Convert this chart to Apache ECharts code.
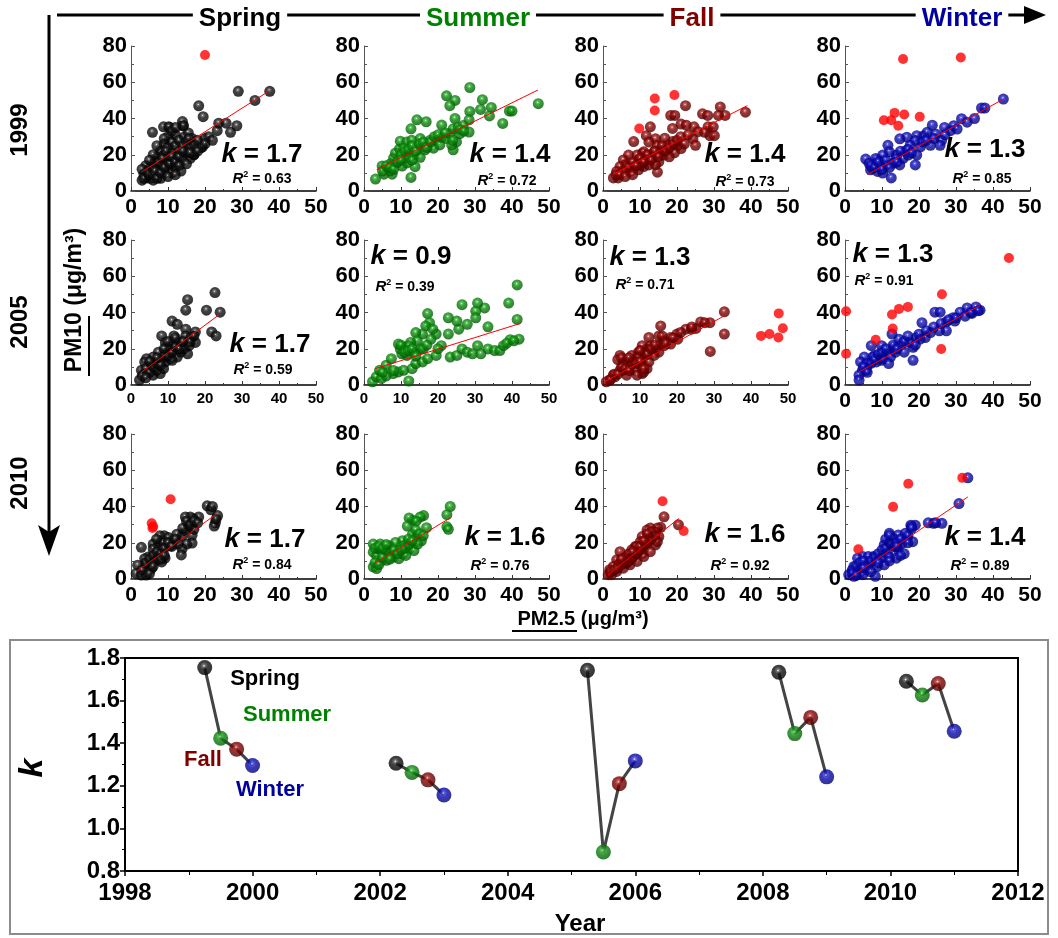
<!DOCTYPE html>
<html><head><meta charset="utf-8">
<script src="https://cdn.jsdelivr.net/npm/echarts@6/dist/echarts.min.js"></script>
<style>html,body{margin:0;padding:0;background:#fff}#c{width:1058px;height:938px}</style>
</head><body><div id="c"></div>
<script>
// ---------------- DATA ----------------
const seasons = ['Spring','Summer','Fall','Winter'];
const years = ['1999','2005','2010'];
const kLabels = [['1.7','1.4','1.4','1.3'],['1.7','0.9','1.3','1.3'],['1.7','1.6','1.6','1.4']];
const r2Labels = [['0.63','0.72','0.73','0.85'],['0.59','0.39','0.71','0.91'],['0.84','0.76','0.92','0.89']];
const xTicks = [0,10,20,30,40,50];
const yTicks = [0,20,40,60,80];

// 1999
const spring1999 = [[3,6],[3.5,9],[4,11],[4.5,8],[5,7],[5,13],[5.5,10],[6,6],[6,12],[6.5,16],[7,9],[7,14],[7,19],[7.5,11],[8,7],[8,17],[8,22],[8.5,13],[9,10],[9,20],[9,26],[9.5,15],[10,12],[10,18],[10,24],[10,30],[10.5,35],[11,10],[11,21],[11,27],[11.5,16],[12,13],[12,25],[12,31],[12.5,19],[13,22],[13,28],[13.5,11],[14,17],[14,25],[14,36],[14.5,30],[15,21],[15,27],[15.5,32],[16,18],[16,24],[16.5,29],[17,20],[17,26],[18,28],[18.3,47],[19.5,41],[19,24],[20,29],[21,30],[5.8,32.4],[8.8,35.4],[10.2,35.4],[13.9,38.3],[14.2,36],[23.3,33.3],[23.7,37.4],[25.7,37.4],[26.9,32.4],[28.6,36],[29,55],[33.5,50],[37.5,55],[4,14],[3,12],[15.6,28.8],[15.6,21.6],[11.4,16.2],[8,14.4],[17,20.1],[19.3,24.3],
  [3.5,7],[4.5,10],[5,9],[6,9],[6.5,11],[7,7],[7.5,16],[8,10],[8.5,18],[9,13],[9.5,22],[10,8],[10.5,15],[11,19],[12,9],[12,16],[13,14],[13,19],[14,22],[15,15],[16,21],[11,33],[12,35],[9,29],[7,25],[6,20],[5,17],[18,22],[20,26],[22,28]];
const spring1999Out = [[20,75]];
const spring1999Fit = [[2.8,10.4],[37.5,55.4]];

const summer1999 = [[47.1,48.2],[28.6,57.1],[22.3,52.5],[24.6,50],[23.2,47.1],[32,50.4],[34.4,46.1],[31.5,45],[33.9,41.4],[39.3,44.1],[40,44.1],[37.5,37.3],[28.6,43.9],[28.4,39.3],[28.4,32.5],[24.6,40],[21,36.4],[14.3,39.3],[16.8,38.2],[12.7,34.3],[12.7,7.5],[3.1,6.6],[5.4,9.3],[7.6,9.3],[4.9,13.8],[7.1,15],[8,18.2],[8.5,20.9],[9.6,23.2],[9.8,27.5],[11.6,27.1],[12.9,28],[10.7,23.6],[8.9,15.5],[10.3,13.8],[11.6,15.5],[12.5,19.1],[13.8,20],[15.2,18.6],[15.6,24.5],[15.2,28.9],[17,26],[18.8,23.6],[19.6,28],[20.5,25.4],[21,29.8],[22.3,28.9],[23.2,31.6],[24.1,34.3],[25.4,35.2],[25,27.1],[24.1,22.7],[23.7,25.4],[25.9,31.6],[26.8,36.1],[7.1,11.1],[6.3,12.9],[9.4,17.3],[11.2,18.2],[16.5,22.7],[17.9,28],[13.8,13.4],
  [5,11],[6,14],[7,13],[8,12],[9,16],[10,20],[11,22],[12,23],[13,25],[14,22],[15,26],[16,27],[17,24],[18,27],[19,30],[20,31],[22,32],[24,28],[26,34],[27,33],[10,17],[13,17]];
const summer1999Out = [];
const summer1999Fit = [[3.4,11.8],[47,55.7]];

const fall1999 = [[38.5,43.5],[31.7,46.4],[33,41.7],[31.2,41.7],[26.9,42.6],[28.3,41.7],[22.3,47.1],[18.3,41.7],[19.4,41.7],[21.1,36.9],[22.5,36.3],[18.8,34.5],[24.6,35.4],[25.7,32.7],[24.3,28.8],[28.4,35.4],[29.8,35.4],[28.9,30.5],[30.1,30.5],[27.5,32.4],[25,25.2],[21.1,23.4],[20.2,25.2],[18.8,27.3],[16.7,29.1],[14.2,28.8],[12.8,35.4],[11.7,30.5],[12.4,27],[8.3,27.3],[14.7,10.4],[14.7,25.2],[15.6,21.6],[16.5,19.8],[15.1,16.2],[12.8,18],[10.6,20.7],[9.6,17.1],[8.3,15.3],[6.9,19.8],[5.5,17.1],[6,14.4],[4.6,13.5],[3.7,10.8],[2.8,7.2],[4.1,7.2],[7.3,10.8],[9.6,11.7],[11,13.5],[12.4,14.4],[14.2,14.4],[16.5,22.5],[17.4,25.2],[11,21.6],[9.2,19.8],[19.3,21.1],[17.9,18.9],[6.4,13.5],[8.3,12.6],[10.1,14.4],[11.5,17.1],[13.8,21.6],[13.8,19.8],
  [5,10],[6,11],[7,13],[8,16],[9,14],[10,18],[11,16],[12,20],[13,17],[14,22],[15,19],[16,25],[17,22],[18,24],[19,26],[20,28],[21,30],[22,26],[23,31],[3.5,9],[4.5,9],[6,8],[8,9]];
const fall1999Out = [[14,51],[19.3,53],[14,44.4],[9.8,34.5]];
const fall1999Fit = [[2.8,9.3],[39,47.1]];

const winter1999 = [[42.8,50.7],[36.9,45.8],[37.8,45.8],[31.5,39.9],[28.5,33.3],[26.1,27.9],[26.9,35.1],[23.6,36.3],[21.3,30.5],[19.4,30.5],[19,27.9],[23.1,25.2],[20.4,24.3],[16.7,29.7],[14.8,28.8],[17.6,25.2],[19.4,19.8],[19,14.4],[16.2,21.9],[13.9,19.8],[11.6,25.2],[12,21.6],[10.2,19.8],[8.8,17.1],[5.6,17.6],[6.5,15.3],[7.4,12.6],[8.8,10.8],[10.2,9.9],[12.5,7.2],[11.1,14.4],[13,15.3],[13.9,18],[15.7,18],[17.1,19.8],[14.8,14.4],[9.3,14.4],[8.3,18],[6.9,11.7],[22.2,32.4],[24.5,31.5],[29.4,36],[30.3,34.2],[25.7,25.2],
  [7,14],[8,13],[9,16],[10,12],[11,17],[12,13],[14,16],[15,22],[17,23],[18,21],[21,27],[22,28],[24,29],[27,31],[33,38],[35,40]];
const winter1999Out = [[15.7,72.8],[31.3,73.7],[10.5,39],[12.5,39],[13.4,43.1],[16,42.2],[14.4,36],[20.2,41]];
const winter1999Fit = [[6,9],[42.8,50.7]];

// 2005
const spring2005 = [[22.7,51],[24.1,40.2],[20.4,41.3],[21.8,29.3],[23,27.1],[15.3,47.1],[14.8,41.3],[11.1,35.3],[12.5,33.5],[17.4,29.3],[17.4,23.5],[14.8,30.8],[14.8,27.1],[13.9,21.7],[15.3,17.2],[11.6,27.1],[8.3,27.1],[9.3,23.5],[11.1,21.7],[12,18.1],[9.7,17.2],[7.4,18.1],[6,15.4],[4.2,14.5],[3.7,12.7],[2.8,8.1],[2.3,2.7],[3.7,6.3],[5.6,8.1],[6,5.4],[7.9,6.3],[8.8,9],[7.4,10.9],[9.3,12.7],[10.6,14.5],[12.5,15.4],[13.4,18.1],[8.3,14.5],[6.9,12.7],[5.6,11.8],[10.2,19.9],[13,23.5],[16.2,26.2],[14.4,19.9],[15.7,21.7],[11.1,13.6],[6.9,8.1],
  [3,5],[4,9],[5,7],[6,10],[7,12],[8,11],[9,16],[10,16],[11,18],[12,21],[13,20],[14,24],[16,24],[17,27],[9,20],[7,15],[5,13],[4,4],[10,24],[12,26]];
const spring2005Out = [];
const spring2005Fit = [[2.6,6.7],[23.9,38.9]];

const summer2005 = [[41.4,55.2],[41.4,36.2],[41.9,25.3],[39.5,25],[39.1,45.2],[32.6,42.5],[30.7,45.2],[30.2,40.7],[26.5,44.3],[30.2,37.1],[27.9,33.5],[25.6,30.8],[22.8,37.1],[25.1,35.3],[33.5,32.1],[22.8,28.1],[20.9,21.7],[17.2,39.4],[17.7,34.4],[16.7,32.6],[19.5,28.1],[18.1,25.3],[15.8,28.1],[14,28.9],[14.4,24.4],[12.6,23.5],[11.2,20.8],[10.2,17.2],[11.6,16.3],[9.8,19.9],[9.3,22.6],[2.3,1.8],[3.3,4.5],[4.7,3.6],[4.2,8.1],[6,10.9],[7.4,14.5],[7.9,6.3],[9.3,7.2],[10.7,8.1],[12.1,2.2],[13,9],[14,11.8],[15.8,12.7],[17.2,14.5],[19.5,16.3],[23.3,15.4],[25.1,16.3],[26.5,19.9],[27.9,18.1],[29.3,17.2],[30.7,21.7],[31.6,17.2],[33.5,19.9],[35.3,19],[36.7,19],[37.7,21.7],[38.6,23.1],[40.5,24.4],[18.6,30.8],[15.3,19.9],[13.5,18.1],[12.1,21.7],
  [10,22],[11,18],[12,19],[13,20],[14,16],[16,20],[17,22],[20,20],[8,8],[6,5],[5,7]];
const summer2005Out = [];
const summer2005Fit = [[3,9],[42.3,34]];

const fall2005 = [[32.8,40.4],[32.8,28.1],[29,18.5],[28.9,34.4],[26.4,34.8],[25.1,31.2],[22.4,30.8],[20,28.1],[18.3,26.2],[15.6,32.6],[15.1,27.1],[16.5,24.4],[18.3,22.6],[15.1,21.7],[15.1,18.1],[12.4,26.2],[11.9,19.9],[12.8,21.7],[10.6,21.7],[9.6,18.1],[11,14.5],[12.4,12.7],[11.9,9],[10.1,10.9],[10.6,6.3],[8.7,8.1],[8.3,14.5],[6.4,12.7],[4.6,16.3],[5.5,11.8],[7.3,10],[6.4,5.4],[4.6,8.1],[3.2,4.5],[1.8,2.7],[0.9,1.8],[9.2,5.4],[11,7.2],[7.8,16.3],[9.6,15.4],[13.8,16.3],[16.5,21.7],[20.2,25.3],[23.9,30.8],[27.5,34.4],[2.8,5.4],[5.5,8.1],[11.5,17.2],[14.2,19.9],
  [2,3],[3,6],[4,6],[5,10],[6,9],[7,8],[8,12],[9,12],[10,13],[12,17],[13,20],[14,22],[16,27],[17,23],[19,26],[21,29],[24,32],[4,14],[5,15],[7,15],[10,19],[11,9]];
const fall2005Out = [[42.7,27.1],[45,28.1],[47.5,39.5],[48.6,31.3],[47.4,26.2]];
const fall2005Fit = [[0.5,1.8],[33,38.4]];

const winter2005 = [[36.5,41.3],[35.4,43.1],[33,42.5],[31.1,40.2],[29.2,37.1],[27.4,34.8],[27.4,29.9],[25.5,29.9],[24.3,40.2],[25.7,40.2],[20.8,34.4],[21.7,26.2],[19.3,26.2],[18.4,20.8],[18.4,13.6],[20.3,25.3],[14.6,25.3],[12.7,28.1],[13.2,20.8],[11.3,17.2],[9.9,21.7],[7.1,21.7],[9.9,13.6],[8,16.3],[5.2,15.4],[4.2,12.7],[4.7,8.1],[3.8,5.4],[3.8,2.7],[6.1,10.9],[8.5,12.7],[10.4,14.5],[12.3,15.4],[13.7,18.1],[15.1,21.7],[16,18.1],[17.5,23.5],[23.1,28.9],[5.7,8.1],[11.8,11.8],[7.5,15.4],[29.7,35.3],[32.5,38],[34.3,39.5],
  [6,12],[7,12],[8,14],[9,17],[10,18],[11,20],[13,22],[14,20],[16,24],[17,27],[19,22],[20,28],[22,30],[24,32],[26,34],[28,36],[30,37],[34,40],[36,41],[5,10],[6,7]];
const winter2005Out = [[44.3,70.1],[0.3,40.7],[0.3,17.2],[26.2,50.1],[26,19.9],[12.7,38.9],[14.6,42],[17,43.1],[12.9,31.2],[8.3,25]];
const winter2005Fit = [[3.8,7.2],[36.5,43.9]];

// 2010
const spring2010 = [[20.6,40.4],[21.6,38.2],[23.4,35],[22.8,31],[22.5,29.2],[18.3,34.2],[16.9,33.3],[16,34.2],[14.7,34.2],[13.8,23.8],[14.7,26.5],[16.5,24.1],[16.5,19.8],[15.1,19.3],[13.8,16.6],[13.6,13.3],[11,21.1],[10.6,18.4],[9,23.8],[7.8,23.8],[7.3,18.4],[6,19.3],[8.3,16.6],[9.2,11.5],[6,16.6],[4.6,12.1],[3.7,11.2],[2.8,17.5],[7.3,13],[6.9,10.3],[5.5,8.5],[4.1,7.6],[1.8,7.6],[1.4,3.1],[2.8,2.2],[4.1,2.2],[5.5,5.8],[8.3,9.4],[10.1,22.9],[12.4,24.7],[15.6,29.2],[17,27.4],[8.7,20.2],[6.9,22],[12.8,19.3],
  [3,5],[4,9],[5,11],[6,13],[7,15],[8,14],[9,17],[10,20],[11,18],[12,22],[14,28],[15,32],[16,30],[17,32],[18,31],[22,40],[23,33],[5,3],[6,7],[8,11],[9,13]];
const spring2010Out = [[5.6,30.8],[6,29],[5.8,28.2],[10.7,44]];
const spring2010Fit = [[1.4,4],[23.2,36]];

const summer2010 = [[23.3,40],[22.4,35.5],[22.4,28.8],[22.8,27.4],[16.9,28.3],[16.1,35],[15.2,34.2],[13.1,32.4],[12.2,33.7],[14.1,31.9],[11.7,29.2],[13.1,24.7],[14.5,23.8],[15.5,21.1],[13.1,19.3],[12.2,16.6],[13.5,15.7],[10.4,21.1],[8.5,20.2],[9.8,17.5],[7.6,14.8],[6.7,18.4],[4.4,19.3],[2.5,19.3],[2.5,14.8],[3.4,13],[2.5,6.7],[3.4,5.8],[4.8,10.3],[6.1,10.3],[8,12.1],[9.4,11.2],[10.4,13.9],[11.3,13],[5.7,14.8],[3.9,16.6],[8.9,15.7],[7.1,13],[10.8,18.4],[14.5,19.3],
  [3,9],[4,8],[5,12],[6,16],[7,11],[8,16],[9,14],[10,16],[11,17],[12,19],[12,22],[13,21],[14,27],[15,25],[16,24],[3,17],[4,18],[5,17],[6,19]];
const summer2010Out = [];
const summer2010Fit = [[2.8,8.5],[23.3,33.7]];

const fall2010 = [[16.5,34.3],[20.4,29.9],[15.6,28.5],[14.7,28.1],[12.8,28.1],[11.9,27],[14.2,26.1],[15.1,23.4],[14.2,18.8],[12.4,21.5],[10.6,23.4],[10.1,20.6],[11.5,17.9],[10.6,14.2],[8.7,17.9],[7.8,16.1],[8.7,13.3],[6.9,13.3],[6,11.5],[4.6,15.1],[5,9.7],[3.7,10.6],[4.1,7.8],[2.8,6.9],[1.8,5.1],[1.4,2.4],[2.3,2.4],[3.7,4.2],[5.5,6],[7.3,7.8],[9.2,9.7],[11,12.4],[12.8,15.1],[7.8,11.5],[6.4,8.8],[9.6,16.1],[12.8,23.4],[14.7,20.6],
  [2,4],[3,5],[4,6],[5,8],[6,9],[7,10],[8,12],[9,14],[10,16],[11,19],[12,20],[13,22],[14,24],[13,26],[12,25],[9,18],[10,18],[11,21],[6,12],[5,11],[7,14],[8,15]];
const fall2010Out = [[16.1,42.9],[21.8,26.5]];
const fall2010Fit = [[1.4,2.4],[20.5,33.4]];

const winter2010 = [[33.2,55.8],[30.8,41.6],[26.2,30.7],[23.9,30.7],[19,29.7],[17.8,29.7],[18.3,20.6],[16.8,22.4],[14.4,24.3],[12,25.2],[13,22.4],[10.6,18.8],[12,18.8],[14.4,16.1],[13.9,11.5],[10.6,7.8],[8.2,1.5],[7.7,12.4],[6.7,8.8],[4.8,12.4],[3.4,11.5],[2.4,6.9],[1.9,4.2],[1,2.4],[3.8,3.3],[5.8,5.1],[8.7,6.9],[9.6,11.5],[6.3,12.4],[11.5,14.2],[13.5,17.9],[15.4,19.7],[16.3,25.2],[2.4,1.5],[4.8,2.4],
  [2,5],[3,7],[4,9],[5,10],[6,7],[7,10],[8,12],[9,14],[10,16],[11,17],[12,20],[11,22],[12,24],[14,20],[15,22],[17,24],[18,29],[16,14],[2,3],[3,2],[5,6],[7,4],[9,9],[12,12],[15,13],[14,18],[22.5,31],[24.5,31],[18,28],[17,20],[12,10]];
const winter2010Out = [[3.6,16.4],[13,39.8],[17.1,52.6],[31.7,55.8]];
const winter2010Fit = [[1.2,0.5],[33.2,45.3]];

// k vs year (bottom chart)
const kX1999 = [1999.25, 1999.5, 1999.75, 2000.0];
const kY1999 = [1.755, 1.423, 1.372, 1.295];
const kX2002 = [2002.25, 2002.5, 2002.75, 2003.0];
const kY2002 = [1.306, 1.263, 1.228, 1.157];
const kX2005 = [2005.25, 2005.5, 2005.75, 2006.0];
const kY2005 = [1.742, 0.889, 1.21, 1.317];
const kX2008 = [2008.25, 2008.5, 2008.75, 2009.0];
const kY2008 = [1.733, 1.445, 1.521, 1.242];
const kX2010 = [2010.25, 2010.5, 2010.75, 2011.0];
const kY2010 = [1.691, 1.626, 1.68, 1.456];

// ---------------- CHART ----------------
const FF = '"Liberation Sans", Arial, Helvetica, sans-serif';
const seasonColors = ['#000000','#008000','#800000','#0000a0'];
const sphereStops = [
  ['#ffffff','#555555','#111111','#000000'],
  ['#ffffff','#44bb44','#0a8a0a','#035503'],
  ['#ffffff','#b04040','#850000','#4a0000'],
  ['#ffffff','#4444dd','#0a0ab0','#000070']
];
function sphere(i){
  const s = sphereStops[i];
  return {type:'radial', x:0.45, y:0.38, r:0.62, colorStops:[
    {offset:0, color:s[0]},{offset:0.14, color:s[1]},{offset:0.4, color:s[2]},{offset:1, color:s[3]}]};
}
const panelData = [
  [spring1999, summer1999, fall1999, winter1999],
  [spring2005, summer2005, fall2005, winter2005],
  [spring2010, summer2010, fall2010, winter2010]];
const panelOut = [
  [spring1999Out, summer1999Out, fall1999Out, winter1999Out],
  [spring2005Out, summer2005Out, fall2005Out, winter2005Out],
  [spring2010Out, summer2010Out, fall2010Out, winter2010Out]];
const panelFit = [
  [spring1999Fit, summer1999Fit, fall1999Fit, winter1999Fit],
  [spring2005Fit, summer2005Fit, fall2005Fit, winter2005Fit],
  [spring2010Fit, summer2010Fit, fall2010Fit, winter2010Fit]];

const colLeft = [131, 364, 603, 845];
const rowTop = [46, 240, 434];
const panelW = 185, panelH = 145;
const grids = [], xAxes = [], yAxes = [], series = [];
for (let r=0;r<3;r++){
  for (let c=0;c<4;c++){
    const gi = grids.length;
    grids.push({left:colLeft[c], top:rowTop[r], width:panelW, height:panelH});
    const smallX = (r===1 && c<3);
    xAxes.push({type:'value', gridIndex:gi, min:xTicks[0], max:xTicks[xTicks.length-1], interval:10,
      axisLine:{show:true, onZero:false, lineStyle:{color:'#000', width:1.5}},
      axisTick:{show:true, inside:true, length:4, lineStyle:{color:'#333'}},
      minorTick:{show:true, splitNumber:2, length:2, lineStyle:{color:'#333'}},
      splitLine:{show:false},
      axisLabel:{fontFamily:FF, fontWeight:'bold', fontSize: smallX?15:21, color:'#000', margin:6}});
    yAxes.push({type:'value', gridIndex:gi, min:yTicks[0], max:yTicks[yTicks.length-1], interval:20,
      axisLine:{show:true, onZero:false, lineStyle:{color:'#555', width:1}},
      axisTick:{show:true, inside:true, length:4, lineStyle:{color:'#555'}},
      minorTick:{show:true, splitNumber:2, length:3, lineStyle:{color:'#555'}},
      splitLine:{show:false},
      axisLabel:{fontFamily:FF, fontWeight:'bold', fontSize:22, color:'#000', margin:4}});
    series.push({type:'scatter', xAxisIndex:gi, yAxisIndex:gi, data:panelData[r][c], symbolSize:11,
      itemStyle:{color:sphere(c)}, z:2, silent:true});
    series.push({type:'scatter', xAxisIndex:gi, yAxisIndex:gi, data:panelOut[r][c], symbolSize:10,
      itemStyle:{color:'#ff0000'}, z:3, silent:true});
    series.push({type:'line', xAxisIndex:gi, yAxisIndex:gi, data:panelFit[r][c], showSymbol:false, symbol:'none',
      lineStyle:{color:'#ff0000', width:1}, z:4, silent:true});
  }
}
// bottom chart
const bi = grids.length;
grids.push({left:125, top:658, width:893, height:213, show:true, borderColor:'#000', borderWidth:2, backgroundColor:'transparent'});
xAxes.push({type:'value', gridIndex:bi, min:1998, max:2012, interval:2,
  axisLine:{show:true, onZero:false, lineStyle:{color:'#000', width:2}},
  axisTick:{show:true, inside:false, length:5, lineStyle:{color:'#000', width:1.5}},
  minorTick:{show:true, splitNumber:2, length:4, lineStyle:{color:'#000'}},
  splitLine:{show:false},
  axisLabel:{fontFamily:FF, fontWeight:'bold', fontSize:24, color:'#000', margin:10, formatter:v=>String(v)}});
yAxes.push({type:'value', gridIndex:bi, min:0.8, max:1.8, interval:0.2,
  axisLine:{show:true, onZero:false, lineStyle:{color:'#000', width:2}},
  axisTick:{show:true, inside:false, length:5, lineStyle:{color:'#000', width:1.5}},
  minorTick:{show:true, splitNumber:2, length:3, lineStyle:{color:'#000'}},
  splitLine:{show:false},
  axisLabel:{fontFamily:FF, fontWeight:'bold', fontSize:24, color:'#000', margin:5, formatter:v=>v.toFixed(1)}});
const kGroups = [[kX1999,kY1999],[kX2002,kY2002],[kX2005,kY2005],[kX2008,kY2008],[kX2010,kY2010]];
kGroups.forEach(g=>{
  const pts = g[0].map((x,i)=>[x, g[1][i]]);
  series.push({type:'line', xAxisIndex:bi, yAxisIndex:bi, data:pts, symbol:'none',
    lineStyle:{color:'#444', width:3}, z:2, silent:true});
  series.push({type:'scatter', xAxisIndex:bi, yAxisIndex:bi, symbolSize:15, z:3, silent:true,
    data: pts.map((p,i)=>({value:p, itemStyle:{color:sphere(i)}}))});
});

// graphics
const G = [];
function txt(x,y,text,opt){
  opt = opt||{};
  const el = {type:'text', x:x, y:y, rotation:opt.rot||0, z:opt.z||10,
    style:Object.assign({text:text, x:0, y:0, align:'center', verticalAlign:'middle',
      fontFamily:FF, fontWeight:'bold', fontSize:opt.size||22, fill:opt.color||'#000'}, opt.style||{})};
  G.push(el); return el;
}
// bottom gray box
G.push({type:'rect', shape:{x:10, y:640, width:1038, height:294}, style:{fill:'none', stroke:'#8c8c8c', lineWidth:2}, z:1});
// header line + arrow
G.push({type:'line', shape:{x1:57,y1:15,x2:1025,y2:15}, style:{stroke:'#000', lineWidth:3}, z:5});
G.push({type:'polygon', shape:{points:[[1024,6],[1046,15],[1024,24]]}, style:{fill:'#000'}, z:5});
const headX = [240, 478, 692, 962];
seasons.forEach((s,i)=>txt(headX[i], 19, s, {size:26, color:seasonColors[i], z:6,
  style:{backgroundColor:'#fff', padding:[2,6]}}));
// left arrow
G.push({type:'line', shape:{x1:49,y1:15,x2:49,y2:540}, style:{stroke:'#000', lineWidth:3}, z:5});
G.push({type:'polygon', shape:{points:[[38,525],[49,556],[60,525],[49,532]]}, style:{fill:'#000'}, z:5});
const yearY = [130, 322, 483];
years.forEach((y,i)=>txt(20, yearY[i], y, {size:24, rot:Math.PI/2}));
// axis titles
txt(75, 300, 'PM10 (μg/m³)', {size:23, rot:Math.PI/2});
G.push({type:'line', shape:{x1:89,y1:376,x2:89,y2:316}, style:{stroke:'#000', lineWidth:2}, z:10});
txt(583, 619, 'PM2.5 (μg/m³)', {size:20});
G.push({type:'line', shape:{x1:512,y1:631,x2:577,y2:631}, style:{stroke:'#000', lineWidth:2}, z:10});
// k / R2 annotations
const kPos = [
  [[262,155],[510,155],[745,155],[985,150]],
  [[270,345],[411,257],[650,258],[893,255]],
  [[265,540],[505,538],[745,535],[985,538]]];
const rPos = [
  [[262,179],[507,181],[745,182],[982,179]],
  [[263,370],[405,287],[645,285],[884,281]],
  [[262,565],[500,566],[740,566],[980,566]]];
for (let r=0;r<3;r++) for (let c=0;c<4;c++){
  txt(kPos[r][c][0], kPos[r][c][1], '{i|k} = '+kLabels[r][c], {size:26,
    style:{rich:{i:{fontStyle:'italic', fontWeight:'bold', fontSize:27, fontFamily:FF}}}});
  txt(rPos[r][c][0], rPos[r][c][1], '{i|R}{s|2} = '+r2Labels[r][c], {size:14,
    style:{rich:{i:{fontStyle:'italic', fontWeight:'bold', fontSize:15, fontFamily:FF, lineHeight:18},
                 s:{fontWeight:'bold', fontSize:9, fontFamily:FF, verticalAlign:'top', lineHeight:18}}}});
}
// bottom labels
txt(265, 679, 'Spring', {size:22, color:'#000'});
txt(287, 715, 'Summer', {size:22, color:'#008000'});
txt(203, 760, 'Fall', {size:22, color:'#800000'});
txt(270, 790, 'Winter', {size:22, color:'#0000a0'});
txt(580, 924, 'Year', {size:24});
txt(33, 768, 'k', {size:34, rot:Math.PI/2, style:{fontStyle:'italic'}});

const chart = echarts.init(document.getElementById('c'));
chart.setOption({animation:false, backgroundColor:'#fff',
  grid:grids, xAxis:xAxes, yAxis:yAxes, series:series, graphic:G});
</script></body></html>
